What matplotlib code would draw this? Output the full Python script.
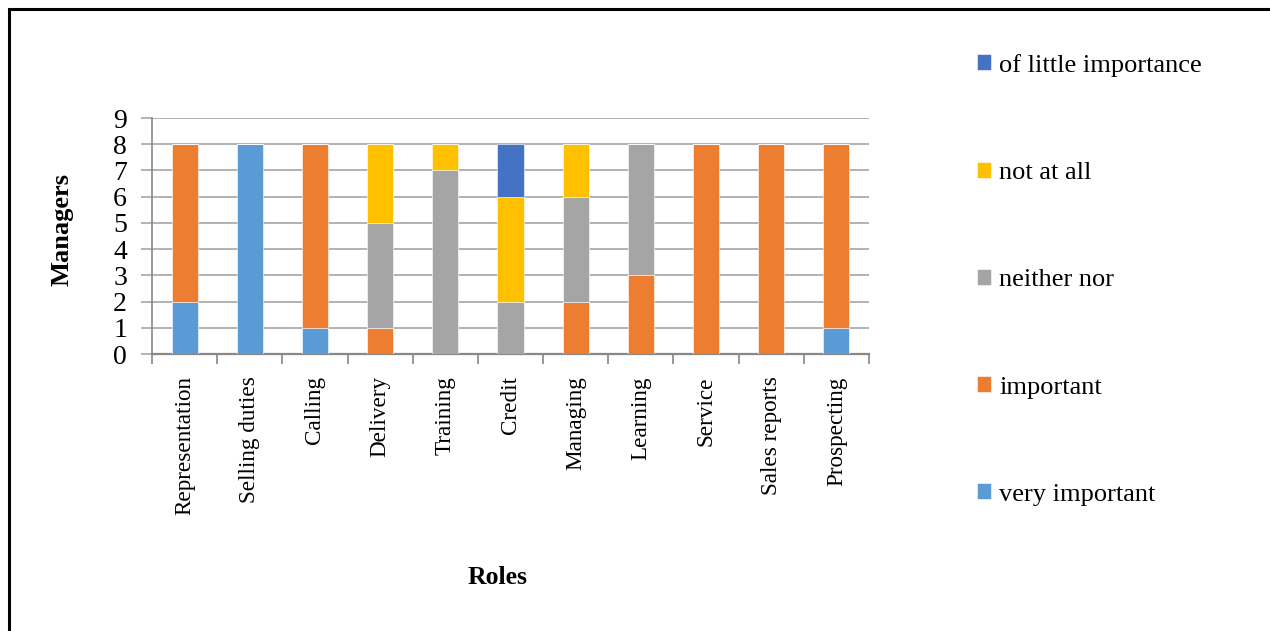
import numpy as np
import matplotlib
matplotlib.use("Agg")
import matplotlib.pyplot as plt
from matplotlib.patches import Rectangle

plt.rcParams['font.family'] = ['Liberation Serif', 'DejaVu Serif']

roles = ["Representation", "Selling duties", "Calling", "Delivery", "Training",
         "Credit", "Managing", "Learning", "Service", "Sales reports", "Prospecting"]
very_important = [2, 8, 1, 0, 0, 0, 0, 0, 0, 0, 1]
important      = [6, 0, 7, 1, 0, 0, 2, 3, 8, 8, 7]
neither_nor    = [0, 0, 0, 4, 7, 2, 4, 5, 0, 0, 0]
not_at_all     = [0, 0, 0, 3, 1, 4, 2, 0, 0, 0, 0]
little_imp     = [0, 0, 0, 0, 0, 2, 0, 0, 0, 0, 0]

series = [("very important", very_important, "#5B9BD5"),
          ("important", important, "#ED7D31"),
          ("neither nor", neither_nor, "#A5A5A5"),
          ("not at all", not_at_all, "#FFC000"),
          ("of little importance", little_imp, "#4472C4")]

fig = plt.figure(figsize=(12.7, 6.31), dpi=100)
ax = fig.add_axes([152/1270, 1-354/631, (869-152)/1270, (354-118)/631])

x = np.arange(len(roles))
bottom = np.zeros(len(roles))
handles = []
for name, vals, col in series:
    b = ax.bar(x, vals, 0.4, bottom=bottom, color=col, label=name,
               edgecolor="white", linewidth=0.4, zorder=3)
    handles.append(b)
    bottom += np.array(vals)

ax.set_xlim(-0.5, len(roles) - 0.5)
ax.set_ylim(0, 9)
ax.set_yticks(range(10))
ax.yaxis.grid(True, color="#A6A6A6", linewidth=1.2, zorder=0)
ax.set_axisbelow(True)

ax.set_xticks(x)
ax.set_xticklabels(roles, rotation=90, fontsize=16.7)
ax.set_xticks(np.arange(-0.5, len(roles), 1), minor=True)
ax.tick_params(axis="x", which="major", length=0, pad=16)
ax.tick_params(axis="x", which="minor", length=7, color="#888888", width=1.2)
ax.tick_params(axis="y", length=8, color="#A6A6A6", width=1.2, labelsize=20, pad=10)

for s in ["top", "right"]:
    ax.spines[s].set_visible(False)
ax.spines["left"].set_color("#888888")
ax.spines["bottom"].set_color("#888888")
ax.spines["left"].set_linewidth(1.2)
ax.spines["bottom"].set_linewidth(1.6)

fig.text(62/1270, 1-229/631, "Managers", rotation=90, fontsize=19,
         fontweight="bold", ha="center", va="center")
fig.text(498/1270, 1-577/631, "Roles", fontsize=18.5,
         fontweight="bold", ha="center", va="center")

fig.legend(handles[::-1], [h.get_label() for h in handles[::-1]],
           loc="upper left", bbox_to_anchor=(953/1270, 1-30/631),
           frameon=False, fontsize=19, handlelength=0.55, handleheight=0.55,
           handletextpad=0.3, labelspacing=3.22)

fig.patches.append(Rectangle((9/1270, -0.5), 2, 1.5 - 9/631, transform=fig.transFigure,
                             fill=False, edgecolor="black", linewidth=2.2))

fig.savefig("out.png", dpi=100)
